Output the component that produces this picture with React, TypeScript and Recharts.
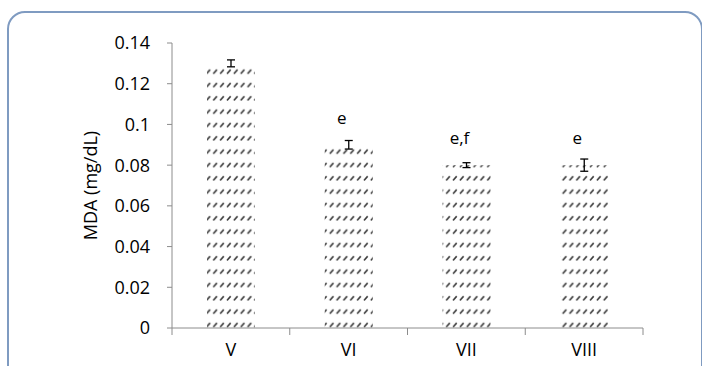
import React from 'react';
import { BarChart, Bar, XAxis, YAxis, ErrorBar, LabelList } from 'recharts';

const groups = ['V', 'VI', 'VII', 'VIII'];
const mdaValues = [0.13, 0.09, 0.08, 0.08];
const mdaErrors = [0.0017, 0.0021, 0.0012, 0.003];
const sigLetters = ['', 'e', 'e,f', 'e'];
const yTicks = [0, 0.02, 0.04, 0.06, 0.08, 0.1, 0.12, 0.14];

const data = groups.map((g, i) => ({
  group: g,
  mda: mdaValues[i],
  err: mdaErrors[i],
  sig: sigLetters[i],
}));

const font = '"Open Sans", sans-serif';
const axisGrey = '#8c8c8c';
const X_TICK = 7;
const X_MARGIN = 8;

function SigLabel(props: any) {
  const { x, y, width, value } = props;
  if (!value) return null;
  return (
    <text
      x={x + width / 2 - 7}
      y={y - 27}
      dy="0.35em"
      textAnchor="middle"
      fontFamily={font}
      fontSize={17}
      fill="#000"
    >
      {value}
    </text>
  );
}

// excel style: tick marks sit between the categories, labels in the middle
function GroupTick(props: any) {
  const { x, y, payload, index, visibleTicksCount } = props;
  const half = payload && payload.offset ? payload.offset : 58.9;
  const axisY = y - X_TICK - X_MARGIN;
  const isLast = index === (visibleTicksCount || groups.length) - 1;
  return (
    <g>
      <line x1={x - half} y1={axisY} x2={x - half} y2={axisY + X_TICK} stroke={axisGrey} />
      {isLast && <line x1={x + half} y1={axisY} x2={x + half} y2={axisY + X_TICK} stroke={axisGrey} />}
      <text x={x} y={y} dy="0.71em" textAnchor="middle" fontFamily={font} fontSize={18} fill="#000">
        {payload.value}
      </text>
    </g>
  );
}

function YTitle(props: any) {
  const vb = props.viewBox || { x: 0, y: 43, width: 172, height: 285 };
  const cx = vb.x + 90;
  const cy = vb.y + vb.height / 2;
  return (
    <text
      x={cx}
      y={cy}
      transform={`rotate(-90 ${cx} ${cy})`}
      textAnchor="middle"
      dominantBaseline="central"
      fontFamily={font}
      fontSize={18}
      fill="#000"
    >
      MDA (mg/dL)
    </text>
  );
}

export default function App() {
  return (
    <div style={{ position: 'absolute', left: 0, top: 0, width: 702, height: 366, overflow: 'hidden', background: '#fff' }}>
      <div
        style={{
          position: 'absolute',
          left: 7,
          top: 11,
          width: 692,
          height: 420,
          border: '2px solid #7f9bc1',
          borderRadius: 18,
        }}
      />
      <svg width={0} height={0} style={{ position: 'absolute' }}>
        <defs>
          <pattern id="hatch" patternUnits="userSpaceOnUse" width={6.85} height={13.33}>
            <line x1={1} y1={7.2} x2={4.6} y2={3} stroke="#3c3c3c" strokeWidth={1.6} />
          </pattern>
        </defs>
      </svg>
      <div style={{ position: 'absolute', left: 0, top: 0 }}>
        <BarChart
          width={702}
          height={366}
          data={data}
          margin={{ top: 43, right: 59, bottom: 0, left: 0 }}
        >
          <XAxis
            dataKey="group"
            height={38}
            axisLine={{ stroke: axisGrey }}
            tickLine={false}
            tickSize={X_TICK}
            tickMargin={X_MARGIN}
            tick={<GroupTick />}
            interval={0}
          />
          <YAxis
            width={172}
            domain={[0, 0.14]}
            ticks={yTicks}
            tickFormatter={(v: number) => String(v)}
            tickSize={5}
            tickMargin={17}
            axisLine={{ stroke: axisGrey }}
            tickLine={{ stroke: axisGrey }}
            tick={{ fontFamily: font, fontSize: 18, fill: '#000' }}
            label={<YTitle />}
          />
          <Bar dataKey="mda" fill="url(#hatch)" barSize={48} isAnimationActive={false}>
            <ErrorBar dataKey="err" width={4} stroke="#000" strokeWidth={1.3} />
            <LabelList dataKey="sig" content={<SigLabel />} />
          </Bar>
        </BarChart>
      </div>
    </div>
  );
}
